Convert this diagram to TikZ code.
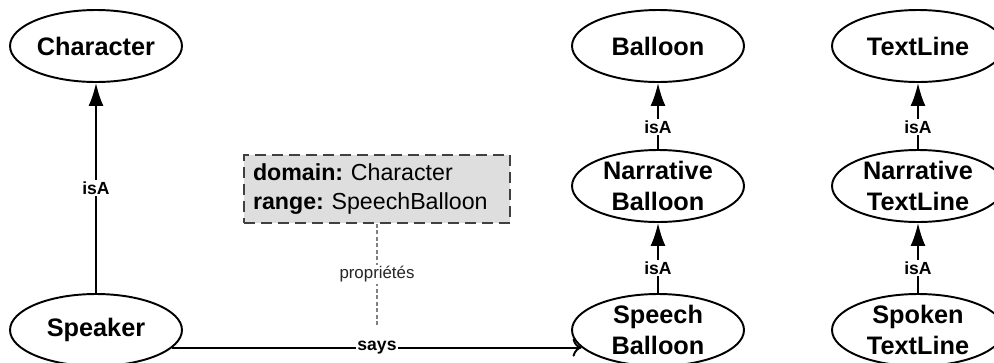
\documentclass[tikz,border=0pt]{standalone}
\usepackage{fontspec}
\setmainfont{Liberation Sans}
\usetikzlibrary{shapes.geometric,arrows.meta}

\begin{document}
\begin{tikzpicture}[x=0.02cm,y=-0.02cm,
        concept/.style={ellipse,draw,line width=1.1pt,inner sep=0pt,
            minimum width=3.44cm,minimum height=1.44cm,
            label={[font=\fontsize{14.4}{17.6}\selectfont\bfseries,align=center]center:#1}},
        isa/.style={line width=1.1pt,-{Latex[length=4.6mm,width=3mm]}},
        lbl/.style={fill=white,inner sep=1pt,font=\fontsize{10}{11}\selectfont\bfseries},
        propbox/.style={draw=black!75,fill=black!13,line width=1.1pt,
            dash pattern=on 0.22cm off 0.12cm,minimum width=5.32cm,minimum height=1.36cm,
            inner xsep=0.18cm,text width=4.96cm,align=left,
            font=\fontsize{13.2}{17}\selectfont\frenchspacing}]
        \clip (0,0) rectangle (994,362);

        % classes
        \node[concept=Character] (character) at (96,46) {};
        \node[concept=Speaker] (speaker) at (96,330) {};
        \node[concept=Balloon] (balloon) at (658,46) {};
        \node[concept={Narrative\\Balloon}] (narrballoon) at (658,186) {};
        \node[concept={Speech\\Balloon}] (speechballoon) at (658,330) {};
        \node[concept=TextLine] (textline) at (918,46) {};
        \node[concept={Narrative\\TextLine}] (narrtextline) at (918,186) {};
        \node[concept={Spoken\\TextLine}] (spokentextline) at (918,330) {};

        % property box
        \node[propbox] (props) at (377,189) {\textbf{domain:} Character\\\textbf{range:} SpeechBalloon};
        \coordinate (propend) at (377,325);

        \draw[isa] (speaker) -- node[lbl]{isA} (character);
        \draw[isa] (narrballoon) -- node[lbl,pos=0.33]{isA} (balloon);
        \draw[isa] (speechballoon) -- node[lbl,pos=0.36]{isA} (narrballoon);
        \draw[isa] (narrtextline) -- node[lbl,pos=0.33]{isA} (textline);
        \draw[isa] (spokentextline) -- node[lbl,pos=0.36]{isA} (narrtextline);

        \draw[line width=1.1pt,-{To[length=1.8mm,width=3.6mm]}] (speaker.-13.6) -- node[lbl]{says} (speechballoon.193.6);
        \draw[black!50,line width=0.6pt,dash pattern=on 0.08cm off 0.05cm] (props) -- node[fill=white,inner sep=1pt,text=black!85,font=\fontsize{9.6}{11}\selectfont]{propriétés} (propend);

    \end{tikzpicture}
\end{document}
